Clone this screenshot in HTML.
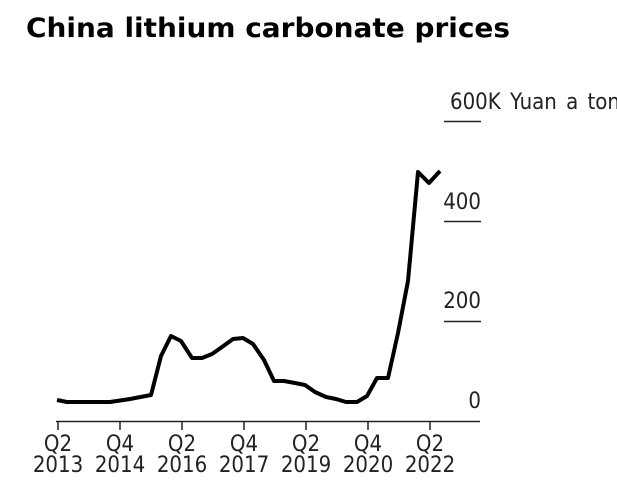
<!DOCTYPE html>
<html><head><style>
html,body{margin:0;padding:0;background:#fff;width:617px;height:503px;overflow:hidden}
</style></head><body>
<svg width="617" height="503" xmlns="http://www.w3.org/2000/svg" style="display:block">
<text x="26" y="37" font-family="DejaVu Sans, Liberation Sans, sans-serif" font-weight="bold" font-size="27" fill="#000" textLength="484" lengthAdjust="spacingAndGlyphs">China lithium carbonate prices</text>
<g font-family="DejaVu Sans Condensed, DejaVu Sans, Liberation Sans, sans-serif" font-size="22" fill="#222">
<text x="450" y="109" word-spacing="3">600K Yuan a ton</text>
<text x="481" y="209" text-anchor="end">400</text>
<text x="481" y="308" text-anchor="end">200</text>
<text x="481" y="408" text-anchor="end">0</text>
</g>
<g stroke="#222" stroke-width="1.5">
<line x1="444" y1="121.5" x2="481" y2="121.5"/>
<line x1="444" y1="221.5" x2="481" y2="221.5"/>
<line x1="444" y1="321.5" x2="481" y2="321.5"/>
<line x1="56" y1="421.5" x2="480" y2="421.5"/>
<line x1="58" y1="421" x2="58" y2="430"/>
<line x1="120" y1="421" x2="120" y2="430"/>
<line x1="182" y1="421" x2="182" y2="430"/>
<line x1="244" y1="421" x2="244" y2="430"/>
<line x1="306" y1="421" x2="306" y2="430"/>
<line x1="368" y1="421" x2="368" y2="430"/>
<line x1="430" y1="421" x2="430" y2="430"/>
</g>
<g font-family="DejaVu Sans Condensed, DejaVu Sans, Liberation Sans, sans-serif" font-size="22" fill="#222" text-anchor="middle">
<text x="58" y="451">Q2</text><text x="58" y="472">2013</text>
<text x="120" y="451">Q4</text><text x="120" y="472">2014</text>
<text x="182" y="451">Q2</text><text x="182" y="472">2016</text>
<text x="244" y="451">Q4</text><text x="244" y="472">2017</text>
<text x="306" y="451">Q2</text><text x="306" y="472">2019</text>
<text x="368" y="451">Q4</text><text x="368" y="472">2020</text>
<text x="430" y="451">Q2</text><text x="430" y="472">2022</text>
</g>
<polyline fill="none" stroke="#000" stroke-width="4" stroke-linejoin="round" points="57,400 67,402 110,402 130,399 151,395 161,356 171,336 181,341 192,358 202,358 212,354 222,347 233,339 243,338 253,344 264,360 274,381 284,381 295,383 305,385 315,392 326,397 336,399 346,402 357,402 367,396 377,378 388,378 398,333 408,281 418,172 429,183 440,171"/>
</svg>
</body></html>
